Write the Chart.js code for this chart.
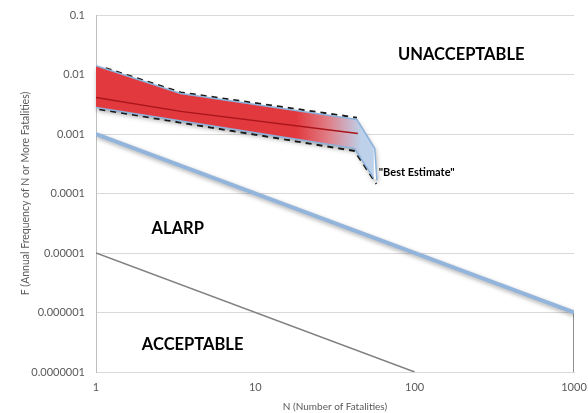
<!DOCTYPE html>
<html><head><meta charset="utf-8">
<script src="https://cdn.jsdelivr.net/npm/chart.js@4"></script>
<style>html,body{margin:0;padding:0;background:#fff}#wrap{width:588px;height:413px;position:relative}</style>
</head><body><div id="wrap"><canvas id="c"></canvas></div>
<script>
const yTickValues = [1e-7, 1e-6, 1e-5, 1e-4, 1e-3, 1e-2, 1e-1];
const yTickLabels = ['0.0000001', '0.000001', '0.00001', '0.0001', '0.001', '0.01', '0.1'];
const xTickValues = [1, 10, 100, 1000];
const xTickLabels = ['1', '10', '100', '1000'];

const upperLimitN = [1, 1000];
const upperLimitF = [0.001, 0.000001];
const lowerLimitN = [1, 100];
const lowerLimitF = [0.00001, 0.0000001];
const dropN = [1000, 1000];
const dropF = [0.000001, 0.0000001];

const bandUpperN = [1, 3.4, 43.4, 56.2, 57.9];
const bandUpperF = [0.014, 0.0048, 0.00175, 0.00057, 0.000166];
const bandLowerN = [1, 42, 55.4];
const bandLowerF = [0.0028, 0.00057, 0.000179];
const bestN = [1, 3.4, 44];
const bestF = [0.0041, 0.0024, 0.00102];
const dashUpperN = [1.15, 3.4, 43.4];
const dashUpperF = [0.0128, 0.0050, 0.00188];
const dashLowerN = [1.05, 42, 57.5];
const dashLowerF = [0.0026, 0.00052, 0.000145];

const zoneLabels = ['UNACCEPTABLE', 'ALARP', 'ACCEPTABLE', '"Best Estimate"'];
const zoneN = [196, 3.26, 4.04, 59.5];
const zoneF = [0.0213, 0.000026, 0.000000285, 0.00023];

const pts = (xs, ys) => xs.map((x, i) => ({x: x, y: ys[i]}));
const FONT = 'Lato, "Liberation Sans", sans-serif';

const shadowPlugin = {
  id: 'shadows',
  beforeDatasetsDraw(chart) {
    const {ctx, scales} = chart;
    ctx.save();
    ctx.shadowColor = 'rgba(0,0,0,0.35)';
    ctx.shadowBlur = 5;
    ctx.shadowOffsetX = 1;
    ctx.shadowOffsetY = 3;
    ctx.fillStyle = '#ffffff';
    ctx.beginPath();
    bandUpperN.forEach((n, i) => {
      const px = scales.x.getPixelForValue(n), py = scales.y.getPixelForValue(bandUpperF[i]);
      if (i === 0) ctx.moveTo(px, py); else ctx.lineTo(px, py);
    });
    for (let i = bandLowerN.length - 1; i >= 0; i--) {
      ctx.lineTo(scales.x.getPixelForValue(bandLowerN[i]), scales.y.getPixelForValue(bandLowerF[i]));
    }
    ctx.closePath();
    ctx.fill();
    ctx.restore();
  },
  beforeDatasetDraw(chart, args) {
    const ds = chart.data.datasets[args.index];
    if (ds.shadow) {
      const ctx = chart.ctx;
      ctx.save();
      ctx.shadowColor = 'rgba(0,0,0,0.35)';
      ctx.shadowBlur = 4;
      ctx.shadowOffsetX = 1;
      ctx.shadowOffsetY = 2;
    }
  },
  afterDatasetDraw(chart, args) {
    const ds = chart.data.datasets[args.index];
    if (ds.shadow) chart.ctx.restore();
  }
};

const labelPlugin = {
  id: 'zoneLabels',
  afterDatasetsDraw(chart) {
    const {ctx, scales} = chart;
    ctx.save();
    ctx.fillStyle = '#000';
    ctx.textBaseline = 'middle';
    zoneLabels.forEach((t, i) => {
      const px = scales.x.getPixelForValue(zoneN[i]);
      const py = scales.y.getPixelForValue(zoneF[i]);
      if (i === 3) {
        ctx.font = 'bold 11px ' + FONT;
        ctx.textAlign = 'left';
      } else {
        ctx.font = 'bold 16.5px ' + FONT;
        ctx.textAlign = 'center';
      }
      ctx.fillText(t, px, py);
    });
    ctx.restore();
  }
};

const bandFill = (c) => {
  const chart = c.chart;
  const {ctx, chartArea, scales} = chart;
  if (!chartArea) return '#e2373d';
  const x0 = scales.x.getPixelForValue(18);
  const x1 = scales.x.getPixelForValue(46);
  const g = ctx.createLinearGradient(x0, 0, x1, 0);
  g.addColorStop(0, '#e2393e');
  g.addColorStop(0.5, '#e07f88');
  g.addColorStop(1, '#bdd1ea');
  return g;
};

new Chart(document.getElementById('c'), {
  type: 'line',
  data: {
    datasets: [
      {data: pts(bandUpperN, bandUpperF), borderColor: '#8db3dc', borderWidth: 1.5, backgroundColor: bandFill, fill: '+1', order: 5},
      {data: pts(bandLowerN, bandLowerF), borderColor: '#8db3dc', borderWidth: 1.5, fill: false, order: 4},
      {data: pts(bestN, bestF), borderColor: '#a8151a', borderWidth: 1.5, fill: false, order: 3},
      {data: pts(dashUpperN, dashUpperF), borderColor: '#1a1a1a', borderWidth: 2, borderDash: [6, 5], fill: false, order: 7},
      {data: pts(dashLowerN, dashLowerF), borderColor: '#1a1a1a', borderWidth: 2, borderDash: [6, 5], fill: false, order: 7},
      {data: pts(upperLimitN, upperLimitF), borderColor: '#93b5dc', borderWidth: 4, fill: false, order: 8, shadow: true},
      {data: pts(lowerLimitN, lowerLimitF), borderColor: '#808080', borderWidth: 1.5, fill: false, order: 9},
      {data: pts(dropN, dropF), borderColor: '#7f7f7f', borderWidth: 1, fill: false, order: 9}
    ]
  },
  options: {
    responsive: true,
    maintainAspectRatio: false,
    animation: false,
    layout: {padding: {top: 15, right: 14, left: 0, bottom: 0}},
    elements: {point: {radius: 0, hoverRadius: 0}, line: {tension: 0}},
    plugins: {legend: {display: false}, tooltip: {enabled: false}},
    scales: {
      x: {
        type: 'logarithmic', min: 1, max: 1000,
        afterFit(s) { s.height = 41; s.paddingLeft = 0; s.paddingRight = 0; },
        afterBuildTicks(s) { s.ticks = xTickValues.map(v => ({value: v})); },
        grid: {display: false, drawTicks: false},
        border: {display: true, color: '#d9d9d9'},
        ticks: {
          padding: 9, color: '#595959', font: {family: FONT, size: 11}, maxRotation: 0, autoSkip: false,
          callback: (v) => xTickLabels[xTickValues.indexOf(v)]
        },
        title: {display: true, text: 'N (Number of Fatalities)', color: '#595959', font: {family: FONT, size: 10}, padding: {top: 0, bottom: 0}}
      },
      y: {
        type: 'logarithmic', min: 1e-7, max: 0.1,
        afterFit(s) { s.width = 96; s.paddingTop = 0; s.paddingBottom = 0; },
        afterBuildTicks(s) { s.ticks = yTickValues.map(v => ({value: v})); },
        grid: {color: '#d9d9d9', lineWidth: 1, drawTicks: false},
        border: {display: true, color: '#bfbfbf'},
        ticks: {
          padding: 11, color: '#595959', font: {family: FONT, size: 11}, autoSkip: false,
          callback: (v) => yTickLabels[yTickValues.indexOf(v)]
        },
        title: {display: true, text: 'F (Annual Frequency of N or More Fatalities)', color: '#595959', font: {family: FONT, size: 10.5}, padding: {top: 19, bottom: 0}}
      }
    }
  },
  plugins: [shadowPlugin, labelPlugin]
});
</script>
</body></html>
